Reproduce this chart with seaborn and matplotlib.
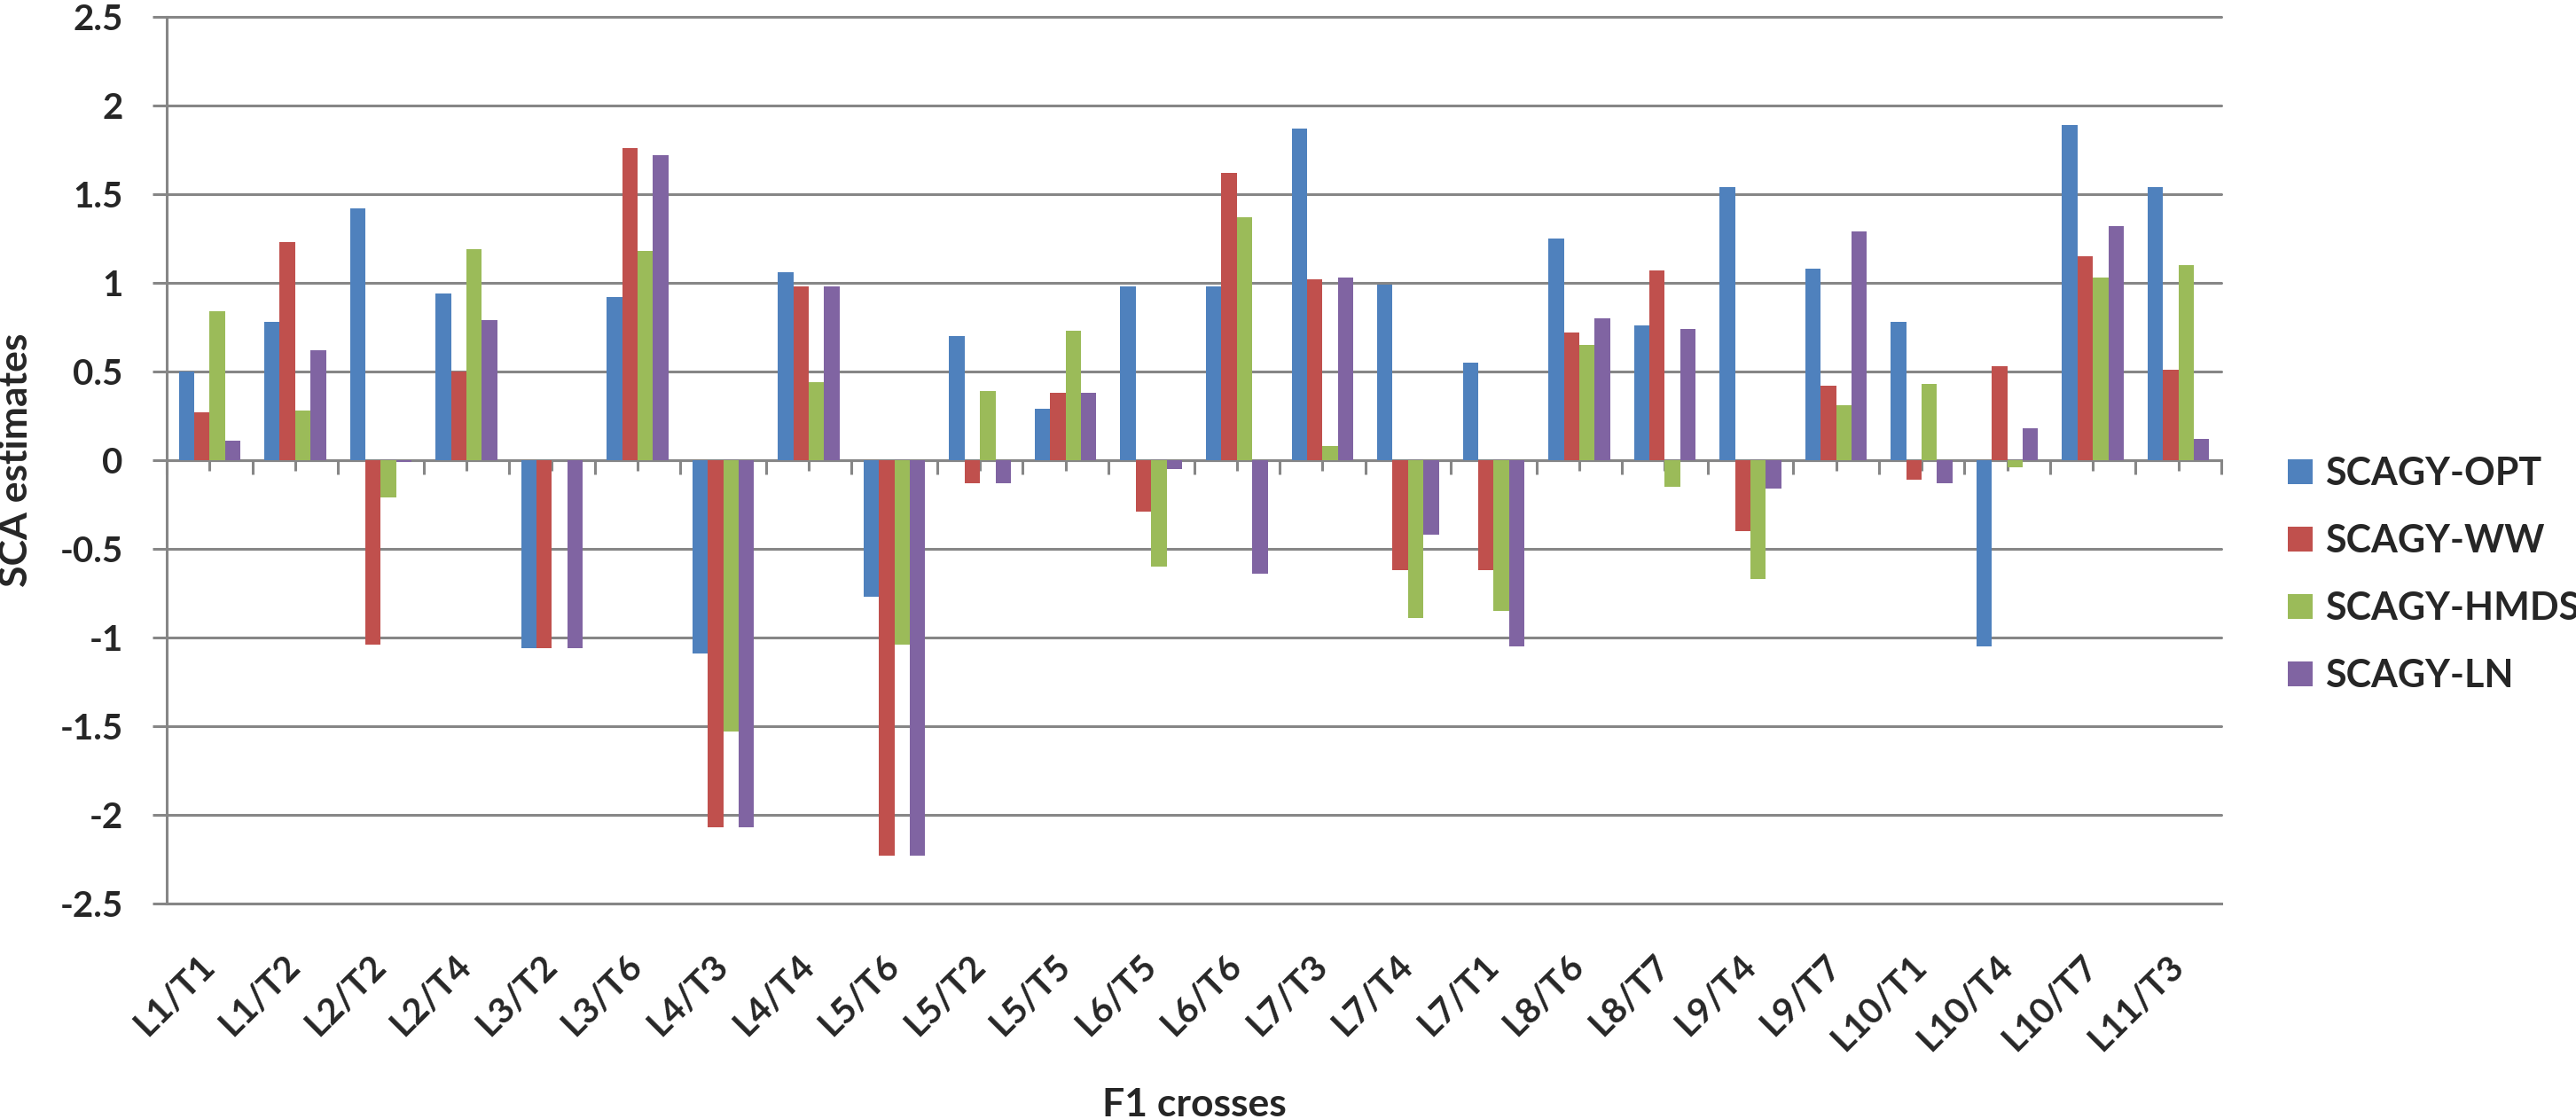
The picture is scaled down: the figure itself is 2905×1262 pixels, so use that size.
import numpy as np
import pandas as pd

import matplotlib
matplotlib.use('Agg')

import matplotlib.pyplot as plt
import seaborn as sns
import warnings
warnings.filterwarnings('ignore')

# F1 crosses and SCA estimates
crosses = ["L1/T1", "L1/T2", "L2/T2", "L2/T4", "L3/T2", "L3/T6", "L4/T3", "L4/T4",
           "L5/T6", "L5/T2", "L5/T5", "L6/T5", "L6/T6", "L7/T3", "L7/T4", "L7/T1",
           "L8/T6", "L8/T7", "L9/T4", "L9/T7", "L10/T1", "L10/T4", "L10/T7", "L11/T3"]
sca_opt = [0.50, 0.78, 1.42, 0.94, -1.06, 0.92, -1.09, 1.06, -0.77, 0.70, 0.29, 0.98,
           0.98, 1.87, 0.99, 0.55, 1.25, 0.76, 1.54, 1.08, 0.78, -1.05, 1.89, 1.54]
sca_ww = [0.27, 1.23, -1.04, 0.50, -1.06, 1.76, -2.07, 0.98, -2.23, -0.13, 0.38, -0.29,
          1.62, 1.02, -0.62, -0.62, 0.72, 1.07, -0.40, 0.42, -0.11, 0.53, 1.15, 0.51]
sca_hmds = [0.84, 0.28, -0.21, 1.19, 0.00, 1.18, -1.53, 0.44, -1.04, 0.39, 0.73, -0.60,
            1.37, 0.08, -0.89, -0.85, 0.65, -0.15, -0.67, 0.31, 0.43, -0.04, 1.03, 1.10]
sca_ln = [0.11, 0.62, -0.01, 0.79, -1.06, 1.72, -2.07, 0.98, -2.23, -0.13, 0.38, -0.05,
          -0.64, 1.03, -0.42, -1.05, 0.80, 0.74, -0.16, 1.29, -0.13, 0.18, 1.32, 0.12]
series = ["SCAGY-OPT", "SCAGY-WW", "SCAGY-HMDS", "SCAGY-LN"]
colors = ["#4F81BD", "#C0504D", "#9BBB59", "#8064A2"]

# Long-form table for seaborn
df = pd.DataFrame({
    "cross": crosses * 4,
    "value": sca_opt + sca_ww + sca_hmds + sca_ln,
    "series": [s for s in series for _ in crosses],
})

sns.set_style("white")
plt.rcParams['font.family'] = ['Lato', 'DejaVu Sans']
plt.rcParams['font.weight'] = 'bold'
grid_col = "#868686"

fig = plt.figure(figsize=(29.05, 12.62), dpi=100)
ax = fig.add_axes([0.06472, 0.19231, 0.79759, 0.79239])

sns.barplot(data=df, x="cross", y="value", hue="series", order=crosses,
            hue_order=series, palette=colors, width=0.72, saturation=1,
            errorbar=None, linewidth=0, ax=ax)

ax.set_ylim(-2.5, 2.5)
ax.set_xlim(-0.5, len(crosses) - 0.5)
ax.set_yticks(np.arange(-2.5, 2.51, 0.5))
ax.set_yticklabels([f"{v:g}" for v in np.arange(-2.5, 2.51, 0.5)])
ax.set_axisbelow(True)
ax.yaxis.grid(True, color=grid_col, linewidth=2.2)
for gl in ax.get_ygridlines():
    gl.set_clip_on(False)

for s in ["top", "right"]:
    ax.spines[s].set_visible(False)
for s in ["left", "bottom"]:
    ax.spines[s].set_color(grid_col)
    ax.spines[s].set_linewidth(2.2)

ax.tick_params(axis='y', length=11.5, width=2.2, color=grid_col, pad=24,
               labelsize=29, direction='out', left=True)
ax.set_xticks(range(len(crosses)))
ax.set_xticklabels(crosses, rotation=45, ha='right', va='center',
                   rotation_mode='anchor', fontsize=29, fontweight='bold')
ax.tick_params(axis='x', length=0, pad=46)

# zero line with tick marks, like the category axis crossing at 0
sec = ax.secondary_xaxis(0.5)
sec.set_alignment('bottom')
sec.spines['bottom'].set_color(grid_col)
sec.spines['bottom'].set_linewidth(2.2)
sec.set_xticks(np.arange(-0.5, len(crosses), 1))
sec.set_xticks(np.arange(len(crosses)), minor=True)
sec.tick_params(axis='x', which='major', length=11.5, width=2.2, color=grid_col,
                direction='out', labelbottom=False, labeltop=False)
sec.tick_params(axis='x', which='minor', length=8.6, width=2.2, color=grid_col,
                direction='out', labelbottom=False, labeltop=False)

ax.set_ylabel("SCA estimates", fontsize=32, fontweight='bold', va='center')
ax.yaxis.set_label_coords(-0.0735, 0.5)
ax.set_xlabel("F1 crosses", fontsize=32, fontweight='bold', va='top')
ax.xaxis.set_label_coords(0.5, -0.207)

# Legend on the right
handles, labels = ax.get_legend_handles_labels()
ax.get_legend().remove()
fig.legend(handles, labels, loc='center left', bbox_to_anchor=(0.8881, 0.4865),
           frameon=False, borderpad=0, borderaxespad=0, handlelength=0.65,
           handleheight=0.63, handletextpad=0.33, labelspacing=0.84,
           prop={'family': ['Lato', 'DejaVu Sans'], 'weight': 'bold', 'size': 31})

plt.savefig("out.png", dpi=100)
plt.close()
